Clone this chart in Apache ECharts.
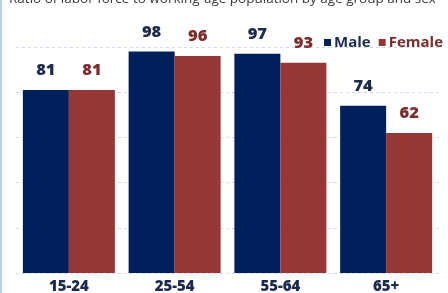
<!DOCTYPE html>
<html><head><meta charset="utf-8">
<script src="https://cdn.jsdelivr.net/npm/echarts@6/dist/echarts.min.js"></script>
<style>html,body{margin:0;padding:0;background:#fff}#c{width:448px;height:293px;border-left:2px solid #b9d0ea;box-sizing:border-box}</style>
</head><body><div id="c"></div>
<script>
const categories = ['15-24', '25-54', '55-64', '65+'];
const maleValues = [81, 98, 97, 74];
const femaleValues = [81, 96, 93, 62];
const titleText = 'Ratio of labor force to working-age population by age group and sex';

const chart = echarts.init(document.getElementById('c'), null, {renderer: 'canvas'});
const font = '"Open Sans", sans-serif';
chart.setOption({
  animation: false,
  graphic: [{type: 'text', left: 7, top: -8, style: {text: titleText, font: '13.5px ' + font, fill: '#3a3a3a'}}],
  legend: {
    right: 0, top: 30, itemWidth: 7, itemHeight: 7, itemGap: 8,
    icon: 'rect',
    textStyle: {fontFamily: font, fontWeight: 'bold', fontSize: 15, padding: [0, 0, 0, -2]},
    data: [
      {name: 'Male', textStyle: {color: '#1b2a4d'}},
      {name: 'Female', textStyle: {color: '#7d2b2b'}}
    ]
  },
  grid: {left: 14, right: 9, top: 47, bottom: 20, outerBoundsMode: 'none', containLabel: false},
  xAxis: {
    type: 'category', data: categories,
    axisLine: {show: false}, axisTick: {show: false},
    axisLabel: {margin: 6, fontFamily: font, fontWeight: 800, fontSize: 15, color: '#1b2a4d'}
  },
  yAxis: {
    type: 'value', min: 0, max: 100, interval: 20,
    axisLabel: {show: false}, axisLine: {show: false}, axisTick: {show: false},
    splitLine: {lineStyle: {color: '#c8dbef', type: [3, 3]}}
  },
  series: [
    {name: 'Male', type: 'bar', data: maleValues, barGap: '0%', barCategoryGap: '13%',
     itemStyle: {color: '#00205b'},
     label: {show: true, position: 'top', distance: 11, fontFamily: font, fontWeight: 800, fontSize: 16.5, color: '#1b2a4d'}},
    {name: 'Female', type: 'bar', data: femaleValues,
     itemStyle: {color: '#943735'},
     label: {show: true, position: 'top', distance: 11, fontFamily: font, fontWeight: 800, fontSize: 16.5, color: '#7d2b2b'}}
  ]
});
</script></body></html>
